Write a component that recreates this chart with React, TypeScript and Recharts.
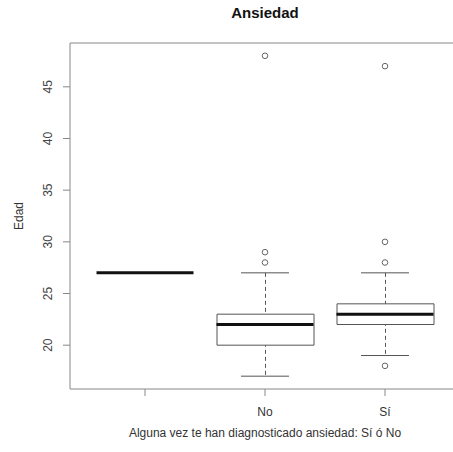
import { ComposedChart, Bar, Scatter, XAxis, YAxis, ReferenceLine } from "recharts";

const categories = ["", "No", "Sí"];
const mins = [null, 17, 19];
const q1s = [27, 20, 22];
const medians = [27, 22, 23];
const q3s = [27, 23, 24];
const maxs = [null, 27, 27];
const outliersNo = [28, 29, 48];
const outliersSi = [18, 28, 30, 47];
const yTicks = [20, 25, 30, 35, 40, 45];
const yDomain = [15.76, 49.24];

const rows = categories.map((name, i) => ({
  name,
  whisker: mins[i] == null ? null : [mins[i], maxs[i]],
  box: q1s[i] === q3s[i] ? null : [q1s[i], q3s[i]],
  median: medians[i],
  min: mins[i],
  max: maxs[i],
}));

const outlierRows = [
  ...outliersNo.map((value) => ({ name: "No", value })),
  ...outliersSi.map((value) => ({ name: "Sí", value })),
];

const BOX_W = 97;
const font = "'Liberation Sans', Arial, sans-serif";

function hLine(half: number, width: number, color: string) {
  return (props: any) => {
    const { cx, cy } = props;
    if (cx == null || cy == null || isNaN(cx) || isNaN(cy)) return <g />;
    return <line x1={cx - half} x2={cx + half} y1={cy} y2={cy} stroke={color} strokeWidth={width} />;
  };
}

function WhiskerShape(props: any) {
  const { x, y, width, height } = props;
  if (x == null || height == null || isNaN(height)) return <g />;
  const mx = x + width / 2;
  return <line x1={mx} x2={mx} y1={y} y2={y + height} stroke="#555" strokeWidth={1} strokeDasharray="4 3" />;
}

function OutlierShape(props: any) {
  const { cx, cy } = props;
  if (cx == null || cy == null) return <g />;
  return <circle cx={cx} cy={cy} r={2.8} fill="none" stroke="#666" strokeWidth={1} />;
}

function YTick(props: any) {
  const { x, y, payload } = props;
  const tx = x - 13;
  return (
    <text x={tx} y={y} transform={`rotate(-90, ${tx}, ${y})`} textAnchor="middle" dominantBaseline="central"
      fontSize={12} fill="#444" fontFamily={font}>
      {payload.value}
    </text>
  );
}

function XTick(props: any) {
  const { x, y, payload } = props;
  return (
    <text x={x} y={y + 13.5} textAnchor="middle" dominantBaseline="central" fontSize={12} fill="#333" fontFamily={font}>
      {payload.value}
    </text>
  );
}

export default function App() {
  return (
    <div style={{ position: "absolute", left: 0, top: 0, width: 453, height: 452, overflow: "hidden", background: "#fff", fontFamily: font }}>
      <ComposedChart width={470} height={452} data={rows} margin={{ top: 43, right: 10, bottom: 0, left: 0 }} barGap={-BOX_W}>
        <XAxis dataKey="name" type="category" allowDuplicatedCategory={false} padding={{ left: 15, right: 15 }}
          height={63} tickSize={7} stroke="#888" tickLine={{ stroke: "#888" }} tick={<XTick />} interval={0} />
        <YAxis type="number" domain={yDomain} ticks={yTicks} allowDataOverflow width={70} tickSize={7}
          stroke="#888" tickLine={{ stroke: "#888" }} tick={<YTick />} />
        <ReferenceLine y={yDomain[1]} stroke="#888" ifOverflow="visible" />
        <Bar dataKey="whisker" barSize={BOX_W} shape={<WhiskerShape />} isAnimationActive={false} />
        <Bar dataKey="box" barSize={BOX_W} fill="#fff" stroke="#555" strokeWidth={1} isAnimationActive={false} />
        <Scatter dataKey="median" shape={hLine(BOX_W / 2, 3, "#111")} isAnimationActive={false} />
        <Scatter dataKey="max" shape={hLine(24, 1, "#555")} isAnimationActive={false} />
        <Scatter dataKey="min" shape={hLine(24, 1, "#555")} isAnimationActive={false} />
        <Scatter data={outlierRows} dataKey="value" shape={<OutlierShape />} isAnimationActive={false} />
      </ComposedChart>
      <div style={{ position: "absolute", left: 0, width: 530, top: 4, textAlign: "center", fontSize: 15, fontWeight: "bold", color: "#111" }}>
        Ansiedad
      </div>
      <div style={{ position: "absolute", left: 0, width: 530, top: 426, textAlign: "center", fontSize: 12, color: "#333" }}>
        Alguna vez te han diagnosticado ansiedad: Sí ó No
      </div>
      <div style={{ position: "absolute", left: 19 - 40, top: 216 - 8, width: 80, textAlign: "center", fontSize: 12, color: "#333", transform: "rotate(-90deg)", lineHeight: "16px" }}>
        Edad
      </div>
    </div>
  );
}
